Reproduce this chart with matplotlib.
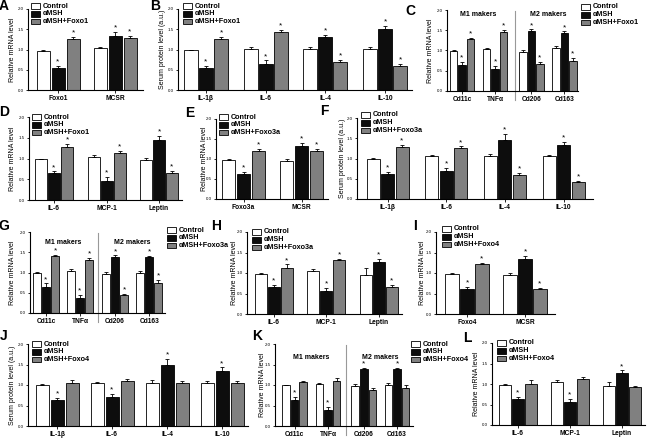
import matplotlib
matplotlib.use('Agg')
import matplotlib.pyplot as plt
from matplotlib.patches import Rectangle
import numpy as np

plt.rcParams['font.family'] = ['Liberation Sans', 'DejaVu Sans']

W, H = 650, 441

# ---------------- data ----------------
a_cats = ['Foxo1', 'MCSR']
a_ctrl = [0.97, 1.03]
a_msh = [0.55, 1.34]
a_trt = [1.26, 1.28]
a_err = [[0.03, 0.04], [0.05, 0.09], [0.06, 0.05]]
a_star = [[1, 1], [1, 1]]

b_cats = ['IL-1\u03b2', 'IL-6', 'IL-4', 'IL-10']
b_ctrl = [0.98, 1.02, 1.02, 1.02]
b_msh = [0.55, 0.64, 1.32, 1.51]
b_trt = [1.25, 1.44, 0.70, 0.59]
b_err = [[0.02, 0.03, 0.05, 0.03], [0.05, 0.09, 0.05, 0.07], [0.06, 0.04, 0.05, 0.05]]
b_star = [[1, 1, 1, 1], [1, 1, 1, 1]]

c_cats = ['Cd11c', 'TNF\u03b1', 'Cd206', 'Cd163']
c_ctrl = [0.99, 1.03, 0.97, 1.05]
c_msh = [0.64, 0.55, 1.48, 1.44]
c_trt = [1.28, 1.46, 0.66, 0.74]
c_err = [[0.02, 0.03, 0.04, 0.06], [0.07, 0.07, 0.04, 0.03], [0.04, 0.05, 0.05, 0.07]]
c_star = [[1, 1, 1, 1], [1, 1, 1, 1]]

d_cats = ['IL-6', 'MCP-1', 'Leptin']
d_ctrl = [0.98, 1.04, 0.96]
d_msh = [0.64, 0.46, 1.45]
d_trt = [1.27, 1.13, 0.66]
d_err = [[0.02, 0.04, 0.06], [0.05, 0.09, 0.10], [0.08, 0.05, 0.05]]
d_star = [[1, 1, 1], [1, 1, 1]]

e_cats = ['Foxo3a', 'MCSR']
e_ctrl = [0.98, 0.95]
e_msh = [0.63, 1.33]
e_trt = [1.20, 1.20]
e_err = [[0.02, 0.04], [0.05, 0.08], [0.06, 0.05]]
e_star = [[1, 1], [1, 1]]

f_cats = ['IL-1\u03b2', 'IL-6', 'IL-4', 'IL-10']
f_ctrl = [1.00, 1.05, 1.06, 1.06]
f_msh = [0.62, 0.68, 1.45, 1.33]
f_trt = [1.28, 1.26, 0.60, 0.41]
f_err = [[0.02, 0.03, 0.04, 0.03], [0.05, 0.08, 0.15, 0.08], [0.05, 0.04, 0.04, 0.04]]
f_star = [[1, 1, 1, 1], [1, 1, 1, 1]]

g_cats = ['Cd11c', 'TNF\u03b1', 'Cd206', 'Cd163']
g_ctrl = [0.99, 1.04, 0.96, 0.98]
g_msh = [0.65, 0.38, 1.38, 1.38]
g_trt = [1.40, 1.30, 0.44, 0.74]
g_err = [[0.02, 0.04, 0.05, 0.05], [0.08, 0.06, 0.04, 0.03], [0.04, 0.06, 0.04, 0.08]]
g_star = [[1, 1, 1, 1], [1, 1, 1, 1]]

h_cats = ['IL-6', 'MCP-1', 'Leptin']
h_ctrl = [0.97, 1.05, 0.96]
h_msh = [0.66, 0.56, 1.27]
h_trt = [1.13, 1.31, 0.66]
h_err = [[0.02, 0.04, 0.16], [0.05, 0.08, 0.07], [0.08, 0.04, 0.04]]
h_star = [[1, 1, 1], [1, 1, 1]]

i_cats = ['Foxo4', 'MCSR']
i_ctrl = [0.98, 0.96]
i_msh = [0.62, 1.35]
i_trt = [1.21, 0.60]
i_err = [[0.02, 0.03], [0.04, 0.06], [0.04, 0.04]]
i_star = [[1, 1], [1, 1]]

j_cats = ['IL-1\u03b2', 'IL-6', 'IL-4', 'IL-10']
j_ctrl = [1.00, 1.04, 1.06, 1.06]
j_msh = [0.63, 0.70, 1.49, 1.35]
j_trt = [1.06, 1.10, 1.04, 1.05]
j_err = [[0.02, 0.03, 0.05, 0.04], [0.05, 0.08, 0.15, 0.08], [0.05, 0.04, 0.05, 0.05]]
j_star = [[1, 1, 1, 1], [0, 0, 0, 0]]

k_cats = ['Cd11c', 'TNF\u03b1', 'Cd206', 'Cd163']
k_ctrl = [0.99, 1.03, 0.97, 0.99]
k_msh = [0.64, 0.39, 1.38, 1.38]
k_trt = [1.07, 1.10, 0.88, 0.93]
k_err = [[0.02, 0.03, 0.05, 0.05], [0.07, 0.08, 0.04, 0.03], [0.03, 0.06, 0.05, 0.08]]
k_star = [[1, 1, 1, 1], [0, 0, 0, 0]]

l_cats = ['IL-6', 'MCP-1', 'Leptin']
l_ctrl = [0.98, 1.05, 0.96]
l_msh = [0.64, 0.55, 1.27]
l_trt = [1.00, 1.12, 0.92]
l_err = [[0.02, 0.04, 0.10], [0.05, 0.08, 0.06], [0.09, 0.04, 0.04]]
l_star = [[1, 1, 1], [0, 0, 0]]

mrna = 'Relative mRNA level'
serum = 'Serum protein level (a.u.)'
colors = ['white', '#0d0d0d', '#808080']


def fx(x):
    return x / W


def fy(y):
    return 1 - y / H


def legend(fig, x, y, treat):
    labels = ['Control', '\u03b1MSH', '\u03b1MSH+' + treat]
    for i, lab in enumerate(labels):
        yy = y + i * 7.7
        fig.add_artist(Rectangle((fx(x), fy(yy + 2.8)), 9 / W, 5.6 / H,
                                 facecolor=colors[i], edgecolor='black',
                                 linewidth=0.6, transform=fig.transFigure))
        fig.text(fx(x + 12), fy(yy), lab, fontsize=5.2, fontweight='bold',
                 va='center', ha='left')


def panel(fig, box, xmap, cats, ctrl, msh, trt, err, star, ylabel, ylab_x,
          letter, letter_xy, treat, leg_xy, pos=None, sep=None, mlab_y=None):
    l, r, t, b = box
    c0, s, bw, step = xmap
    ax = fig.add_axes([fx(l), fy(b), (r - l) / W, (b - t) / H])
    if pos is None:
        pos = list(range(len(cats)))
    pos = np.array(pos, dtype=float)
    series = [ctrl, msh, trt]
    for k in range(3):
        x = pos + (k - 1) * step / s
        ax.bar(x, series[k], bw / s, color=colors[k], edgecolor='black',
               linewidth=0.6, zorder=2)
        ax.errorbar(x, series[k], yerr=[np.zeros(len(x)), err[k]], fmt='none',
                    ecolor='black', elinewidth=0.6, capsize=1.4, capthick=0.6,
                    zorder=3)
        if k > 0:
            for xi, v, e, st in zip(x, series[k], err[k], star[k - 1]):
                if st:
                    ax.text(xi, v + e + 0.01, '*', ha='center', va='bottom',
                            fontsize=6)
    ax.set_xlim((l - c0) / s, (r - c0) / s)
    ax.set_ylim(0, 2)
    ax.set_yticks([0, 0.5, 1.0, 1.5, 2.0])
    ax.set_yticklabels(['0.0', '0.5', '1.0', '1.5', '2.0'])
    ax.set_xticks(pos)
    ax.set_xticklabels(cats, fontweight='bold')
    ax.tick_params(axis='y', labelsize=3.2, length=1.8, width=0.6, pad=1)
    ax.tick_params(axis='x', labelsize=4.8, length=1.8, width=0.6, pad=2)
    for sp in ['top', 'right']:
        ax.spines[sp].set_visible(False)
    for sp in ['left', 'bottom']:
        ax.spines[sp].set_linewidth(0.8)
    ax.patch.set_alpha(0)
    fig.text(fx(ylab_x), fy((t + b) / 2), ylabel, rotation=90, fontsize=5,
             ha='center', va='center')
    fig.text(fx(letter_xy[0]), fy(letter_xy[1]), letter, fontsize=10,
             fontweight='bold', ha='center', va='center')
    legend(fig, leg_xy[0], leg_xy[1], treat)
    if sep is not None:
        xs = (sep - c0) / s
        ax.plot([xs, xs], [-0.22, 1.98], color='#999999', lw=0.8,
                clip_on=False)
        ax.text((pos[0] + pos[1]) / 2, mlab_y, 'M1 makers', ha='center',
                va='center', fontsize=5, fontweight='bold')
        ax.text((pos[2] + pos[3]) / 2, mlab_y, 'M2 makers', ha='center',
                va='center', fontsize=5, fontweight='bold')
    return ax


fig = plt.figure(figsize=(6.5, 4.41), dpi=100)

panel(fig, (28, 143, 9, 90), (58, 57, 13, 15), a_cats, a_ctrl, a_msh, a_trt,
      a_err, a_star, mrna, 12, 'A', (4, 6), 'Foxo1', (31, 6))
panel(fig, (178, 412, 9, 90), (206, 59.7, 14, 15), b_cats, b_ctrl, b_msh, b_trt,
      b_err, b_star, serum, 163, 'B', (155, 6), 'Foxo1', (183, 6))
panel(fig, (447, 578, 10, 91), (462, 33, 7.5, 8.5), c_cats, c_ctrl, c_msh, c_trt,
      c_err, c_star, mrna, 430, 'C', (410, 11), 'Foxo1', (581, 7),
      pos=[0, 1, 2.1, 3.1], sep=515, mlab_y=1.88)
panel(fig, (29, 182, 117, 200), (54, 52.5, 12, 13), d_cats, d_ctrl, d_msh, d_trt,
      d_err, d_star, mrna, 12, 'D', (4, 112), 'Foxo1', (32, 117))
panel(fig, (216, 328, 119, 199), (243.5, 58, 13, 15), e_cats, e_ctrl, e_msh, e_trt,
      e_err, e_star, mrna, 204, 'E', (190, 113), 'Foxo3a', (219, 117))
panel(fig, (357, 593, 118, 199), (387.5, 58.7, 13, 14.5), f_cats, f_ctrl, f_msh,
      f_trt, f_err, f_star, serum, 342, 'F', (324, 111), 'Foxo3a', (361, 115))
panel(fig, (30, 165, 232, 313), (46, 34, 8, 9), g_cats, g_ctrl, g_msh, g_trt,
      g_err, g_star, mrna, 12, 'G', (4, 226), 'Foxo3a', (167, 230),
      pos=[0, 1, 2.03, 3.04], sep=98, mlab_y=1.75)
panel(fig, (247, 402, 232, 314), (273.5, 52.7, 12, 13), h_cats, h_ctrl, h_msh,
      h_trt, h_err, h_star, mrna, 235, 'H', (216, 226), 'Foxo3a', (252, 232))
panel(fig, (436, 555, 232, 314), (467, 58, 13.5, 15), i_cats, i_ctrl, i_msh, i_trt,
      i_err, i_star, mrna, 423, 'I', (415, 226), 'Foxo4', (442, 229))
panel(fig, (28, 248, 344, 426), (57, 55, 13, 15), j_cats, j_ctrl, j_msh, j_trt,
      j_err, j_star, serum, 12, 'J', (4, 336), 'Foxo4', (32, 344))
panel(fig, (275, 413, 344, 426), (294.5, 33.5, 7.5, 8.7), k_cats, k_ctrl, k_msh,
      k_trt, k_err, k_star, mrna, 262, 'K', (257, 336), 'Foxo4', (411, 344),
      pos=[0, 1, 2.07, 3.06], sep=346, mlab_y=1.68)
panel(fig, (492, 645, 343, 425), (517.5, 52, 12, 13), l_cats, l_ctrl, l_msh,
      l_trt, l_err, l_star, mrna, 477, 'L', (467, 338), 'Foxo4', (497, 343))

fig.savefig('out.png', dpi=100)
